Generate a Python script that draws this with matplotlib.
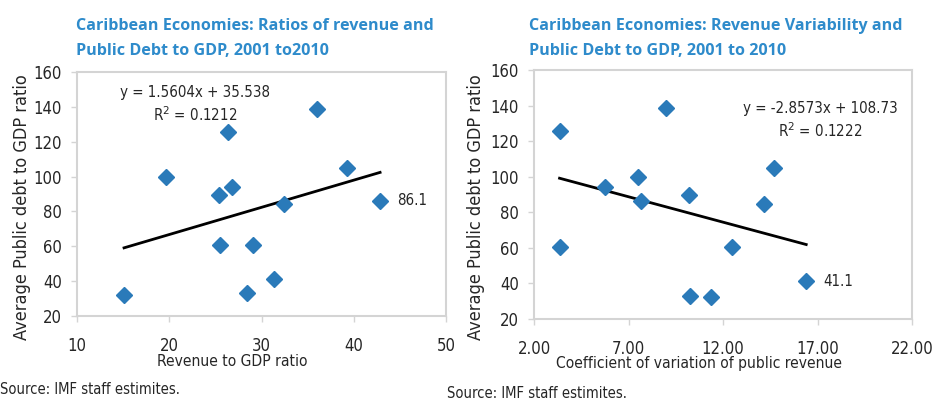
import matplotlib
matplotlib.use("Agg")
import matplotlib.pyplot as plt
import numpy as np

# revenue to GDP ratio vs average public debt
rev_ratio = [15.1, 19.7, 26.4, 25.4, 26.8, 25.5, 29.1, 28.4, 31.4, 32.4, 36.0, 39.3, 42.85]
debt_left = [32.1, 100.0, 125.5, 89.5, 94.3, 60.7, 60.7, 33.0, 41.1, 84.4, 138.9, 104.8, 86.1]

# coefficient of variation of revenue vs average public debt
cv_rev = [3.4, 3.35, 5.75, 7.5, 7.65, 9.0, 10.2, 10.25, 11.35, 12.45, 14.15, 14.7, 16.4]
debt_right = [125.5, 60.7, 94.3, 100.0, 86.1, 138.9, 89.5, 33.0, 32.1, 60.7, 84.4, 104.8, 41.1]

left_fit = (1.5604, 35.538)
right_fit = (-2.8573, 108.73)

blue = '#2a7ab9'
title_blue = '#2e8bcb'
grey = '#d4d4d4'
ink = '#262626'
cond = dict(family='DejaVu Sans', fontstretch='condensed', color=ink)

fig = plt.figure(figsize=(9.32, 4.0), dpi=100)
ax1 = fig.add_axes([0.0826, 0.21, 0.396, 0.61])
ax2 = fig.add_axes([0.573, 0.2025, 0.4056, 0.6225])


def style(ax):
    for s in ax.spines.values():
        s.set_color(grey)
        s.set_linewidth(1.5)
    ax.tick_params(direction='out', length=4, width=1, color=grey)
    ax.tick_params(axis='x', pad=11)
    ax.tick_params(axis='y', pad=7)
    for lab in ax.get_xticklabels() + ax.get_yticklabels():
        lab.set_family('DejaVu Sans')
        lab.set_stretch('condensed')
        lab.set_fontsize(12)
        lab.set_color(ink)


# left chart
ax1.plot(rev_ratio, debt_left, 'D', color=blue, ms=8, zorder=3)
xs = np.array([min(rev_ratio), max(rev_ratio)])
ax1.plot(xs, left_fit[0] * xs + left_fit[1], color='black', lw=2, zorder=2)
ax1.set_xlim(10, 50)
ax1.set_ylim(20, 160)
ax1.set_xticks([10, 20, 30, 40, 50])
ax1.set_yticks(range(20, 161, 20))
style(ax1)
ax1.set_xlabel('Revenue to GDP ratio', fontsize=11.2, **cond)
ax1.xaxis.set_label_coords(0.42, -0.155)
ax1.set_ylabel('Average Public debt to GDP ratio', fontsize=13, **cond)
ax1.yaxis.set_label_coords(-0.125, 0.447)
ax1.text(22.8, 148, 'y = 1.5604x + 35.538', ha='center', va='center', fontsize=10.8, **cond)
ax1.text(22.8, 135.3, 'R$^2$ = 0.1212', ha='center', va='center', fontsize=10.8, **cond)
ax1.annotate(f'{debt_left[-1]:.1f}', (rev_ratio[-1], debt_left[-1]), xytext=(12.5, 0),
             textcoords='offset points', va='center', fontsize=10.8, **cond)

# right chart
ax2.plot(cv_rev, debt_right, 'D', color=blue, ms=8, zorder=3)
xs = np.array([min(cv_rev), max(cv_rev)])
ax2.plot(xs, right_fit[0] * xs + right_fit[1], color='black', lw=2, zorder=2)
ax2.set_xlim(2, 22)
ax2.set_ylim(20, 160)
ax2.set_xticks([2, 7, 12, 17, 22])
ax2.set_xticklabels(['2.00', '7.00', '12.00', '17.00', '22.00'])
ax2.set_yticks(range(20, 161, 20))
style(ax2)
ax2.set_xlabel('Coefficient of variation of public revenue', fontsize=11.2, **cond)
ax2.xaxis.set_label_coords(0.4365, -0.15)
ax2.set_ylabel('Average Public debt to GDP ratio', fontsize=13, **cond)
ax2.yaxis.set_label_coords(-0.13, 0.449)
ax2.text(17.15, 138.6, 'y = -2.8573x + 108.73', ha='center', va='center', fontsize=10.8, **cond)
ax2.text(17.15, 125.7, 'R$^2$ = 0.1222', ha='center', va='center', fontsize=10.8, **cond)
ax2.annotate(f'{debt_right[-1]:.1f}', (cv_rev[-1], debt_right[-1]), xytext=(12, 0),
             textcoords='offset points', va='center', fontsize=10.8, **cond)

# titles
title_kw = dict(family='Open Sans', fontweight='bold', fontsize=11.6, color=title_blue,
                va='center', linespacing=1.72)
fig.text(76 / 932, 1 - 38.5 / 400,
         'Caribbean Economies: Ratios of revenue and\nPublic Debt to GDP, 2001 to2010', **title_kw)
fig.text(529 / 932, 1 - 38.5 / 400,
         'Caribbean Economies: Revenue Variability and\nPublic Debt to GDP, 2001 to 2010', **title_kw)

fig.text(0, 1 - 390 / 400, 'Source: IMF staff estimites.', fontsize=10.6, va='center', **cond)
fig.text(447 / 932, 1 - 393 / 400, 'Source: IMF staff estimites.', fontsize=10.6, va='center', **cond)

fig.savefig('out.png', dpi=100)
